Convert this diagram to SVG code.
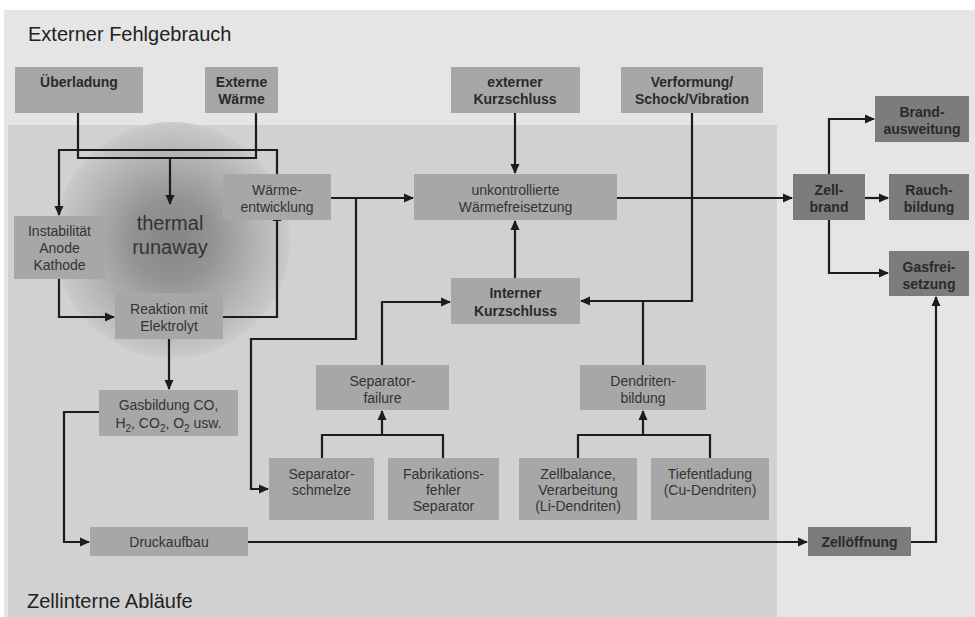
<svg xmlns="http://www.w3.org/2000/svg" width="975" height="617" viewBox="0 0 975 617">
  <defs>
    <style>
      .box { fill: #a7a7a7; }
      .dark { fill: #7c7c7c; }
      .t { font-family: "Liberation Sans", Arial, sans-serif; font-size: 14px; fill: #333; text-anchor: middle; }
      .b { font-weight: bold; fill: #2a2a2a; }
      .title { font-family: "Liberation Sans", Arial, sans-serif; font-size: 20px; fill: #222; }
      .wire { fill: none; stroke: #1c1c1c; stroke-width: 2.2; }
      .wire.arrow { marker-end: url(#ah); }
    </style>
    <marker id="ah" markerWidth="10" markerHeight="10" viewBox="0 0 10 10" refX="9" refY="5" orient="auto" markerUnits="userSpaceOnUse">
      <path d="M0,0.5 L10,5 L0,9.5 Z" fill="#1c1c1c"/>
    </marker>
    <radialGradient id="glow" cx="0.5" cy="0.5" r="0.5">
      <stop offset="0" stop-color="#858585"/>
      <stop offset="0.35" stop-color="#939393"/>
      <stop offset="0.7" stop-color="#b2b2b2"/>
      <stop offset="0.97" stop-color="#c8c8c8"/>
      <stop offset="1" stop-color="#cbcbcb"/>
    </radialGradient>
  </defs>

  <!-- backgrounds -->
  <rect x="0" y="0" width="975" height="617" fill="#ffffff"/>
  <rect x="4" y="10" width="971" height="607" fill="#e5e5e5"/>
  <rect x="8" y="125" width="769" height="492" fill="#d1d1d1"/>
  <circle cx="172" cy="240" r="118" fill="url(#glow)"/>

  <text class="title" x="28" y="41">Externer Fehlgebrauch</text>
  <text class="title" x="27" y="608">Zellinterne Abläufe</text>
  <text class="t" x="170" y="230" style="font-size:20px">thermal</text>
  <text class="t" x="170" y="254" style="font-size:20px">runaway</text>

  <!-- connectors -->
  <g id="connectors">
    <path class="wire" d="M78,113 V158 H256 V113"/>
    <path class="wire arrow" d="M170,158 V204"/>
    <path class="wire arrow" d="M277,174 V150 H59 V215"/>
    <path class="wire arrow" d="M59,279 V317 H114"/>
    <path class="wire arrow" d="M223,317 H277 V212"/>
    <path class="wire arrow" d="M169,339 V389"/>
    <path class="wire arrow" d="M99,412 H64 V542 H89"/>
    <path class="wire arrow" d="M248,542 H807"/>
    <path class="wire arrow" d="M911,542 H936 V297"/>
    <path class="wire arrow" d="M331,198 H413"/>
    <path class="wire arrow" d="M356,198 V339 H251 V489 H268"/>
    <path class="wire arrow" d="M515,113 V173"/>
    <path class="wire arrow" d="M515,278 V221"/>
    <path class="wire arrow" d="M617,198 H792"/>
    <path class="wire arrow" d="M692,113 V301 H581"/>
    <path class="wire" d="M643,365 V301"/>
    <path class="wire arrow" d="M382,365 V302 H450"/>
    <path class="wire" d="M322,458 V435 H443 V458"/>
    <path class="wire arrow" d="M382,435 V411"/>
    <path class="wire" d="M578,458 V435 H710 V458"/>
    <path class="wire arrow" d="M643,435 V411"/>
    <path class="wire arrow" d="M829,174 V119 H874"/>
    <path class="wire arrow" d="M865,198 H888"/>
    <path class="wire arrow" d="M829,220 V273 H888"/>
  </g>

  <!-- nodes -->
  <g id="ueberladung">
    <rect class="box" x="15" y="67" width="128" height="46"/>
    <text class="t b" x="79" y="87">Überladung</text>
  </g>
  <g id="externe-waerme">
    <rect class="box" x="205" y="67" width="73" height="46"/>
    <text class="t b" x="241.5" y="87">Externe</text>
    <text class="t b" x="241.5" y="104">Wärme</text>
  </g>
  <g id="externer-kurzschluss">
    <rect class="box" x="451" y="67" width="129" height="46"/>
    <text class="t b" x="515" y="87">externer</text>
    <text class="t b" x="515" y="104">Kurzschluss</text>
  </g>
  <g id="verformung">
    <rect class="box" x="621" y="67" width="142" height="46"/>
    <text class="t b" x="692" y="87">Verformung/</text>
    <text class="t b" x="692" y="104">Schock/Vibration</text>
  </g>
  <g id="instabilitaet">
    <rect class="box" x="14" y="216" width="91" height="63"/>
    <text class="t" x="59.5" y="236">Instabilität</text>
    <text class="t" x="59.5" y="253">Anode</text>
    <text class="t" x="59.5" y="270">Kathode</text>
  </g>
  <g id="waermeentwicklung">
    <rect class="box" x="223" y="174" width="108" height="46"/>
    <text class="t" x="277" y="195">Wärme-</text>
    <text class="t" x="277" y="212">entwicklung</text>
  </g>
  <g id="reaktion">
    <rect class="box" x="115" y="293" width="108" height="46"/>
    <text class="t" x="169" y="314">Reaktion mit</text>
    <text class="t" x="169" y="331">Elektrolyt</text>
  </g>
  <g id="gasbildung">
    <rect class="box" x="99" y="390" width="139" height="46"/>
    <text class="t" x="168.5" y="410">Gasbildung CO,</text>
    <text class="t" x="168.5" y="428">H<tspan font-size="10" dy="4">2</tspan><tspan dy="-4">, CO</tspan><tspan font-size="10" dy="4">2</tspan><tspan dy="-4">, O</tspan><tspan font-size="10" dy="4">2</tspan><tspan dy="-4"> usw.</tspan></text>
  </g>
  <g id="druckaufbau">
    <rect class="box" x="90" y="527" width="158" height="29"/>
    <text class="t" x="169" y="547">Druckaufbau</text>
  </g>
  <g id="waermefreisetzung">
    <rect class="box" x="414" y="174" width="203" height="46"/>
    <text class="t" x="515.5" y="195">unkontrollierte</text>
    <text class="t" x="515.5" y="212">Wärmefreisetzung</text>
  </g>
  <g id="interner-kurzschluss">
    <rect class="box" x="451" y="278" width="129" height="46"/>
    <text class="t b" x="515.5" y="298">Interner</text>
    <text class="t b" x="515.5" y="316">Kurzschluss</text>
  </g>
  <g id="separator-failure">
    <rect class="box" x="316" y="365" width="133" height="45"/>
    <text class="t" x="382.5" y="386">Separator-</text>
    <text class="t" x="382.5" y="403">failure</text>
  </g>
  <g id="dendritenbildung">
    <rect class="box" x="580" y="365" width="126" height="45"/>
    <text class="t" x="643" y="386">Dendriten-</text>
    <text class="t" x="643" y="403">bildung</text>
  </g>
  <g id="separatorschmelze">
    <rect class="box" x="269" y="458" width="105" height="62"/>
    <text class="t" x="321.5" y="479">Separator-</text>
    <text class="t" x="321.5" y="495">schmelze</text>
  </g>
  <g id="fabrikationsfehler">
    <rect class="box" x="388" y="458" width="111" height="62"/>
    <text class="t" x="443.5" y="479">Fabrikations-</text>
    <text class="t" x="443.5" y="495">fehler</text>
    <text class="t" x="443.5" y="511">Separator</text>
  </g>
  <g id="zellbalance">
    <rect class="box" x="519" y="458" width="118" height="62"/>
    <text class="t" x="578" y="479">Zellbalance,</text>
    <text class="t" x="578" y="495">Verarbeitung</text>
    <text class="t" x="578" y="511">(Li-Dendriten)</text>
  </g>
  <g id="tiefentladung">
    <rect class="box" x="651" y="458" width="118" height="62"/>
    <text class="t" x="710" y="479">Tiefentladung</text>
    <text class="t" x="710" y="495">(Cu-Dendriten)</text>
  </g>
  <g id="zellbrand">
    <rect class="dark" x="793" y="174" width="72" height="46"/>
    <text class="t b" x="829" y="195">Zell-</text>
    <text class="t b" x="829" y="212">brand</text>
  </g>
  <g id="brandausweitung">
    <rect class="dark" x="875" y="96" width="94" height="46"/>
    <text class="t b" x="922" y="117">Brand-</text>
    <text class="t b" x="922" y="134">ausweitung</text>
  </g>
  <g id="rauchbildung">
    <rect class="dark" x="889" y="174" width="80" height="46"/>
    <text class="t b" x="929" y="195">Rauch-</text>
    <text class="t b" x="929" y="212">bildung</text>
  </g>
  <g id="gasfreisetzung">
    <rect class="dark" x="889" y="251" width="80" height="45"/>
    <text class="t b" x="929" y="272">Gasfrei-</text>
    <text class="t b" x="929" y="289">setzung</text>
  </g>
  <g id="zelloeffnung">
    <rect class="dark" x="808" y="527" width="103" height="29"/>
    <text class="t b" x="859.5" y="547">Zellöffnung</text>
  </g>
</svg>
